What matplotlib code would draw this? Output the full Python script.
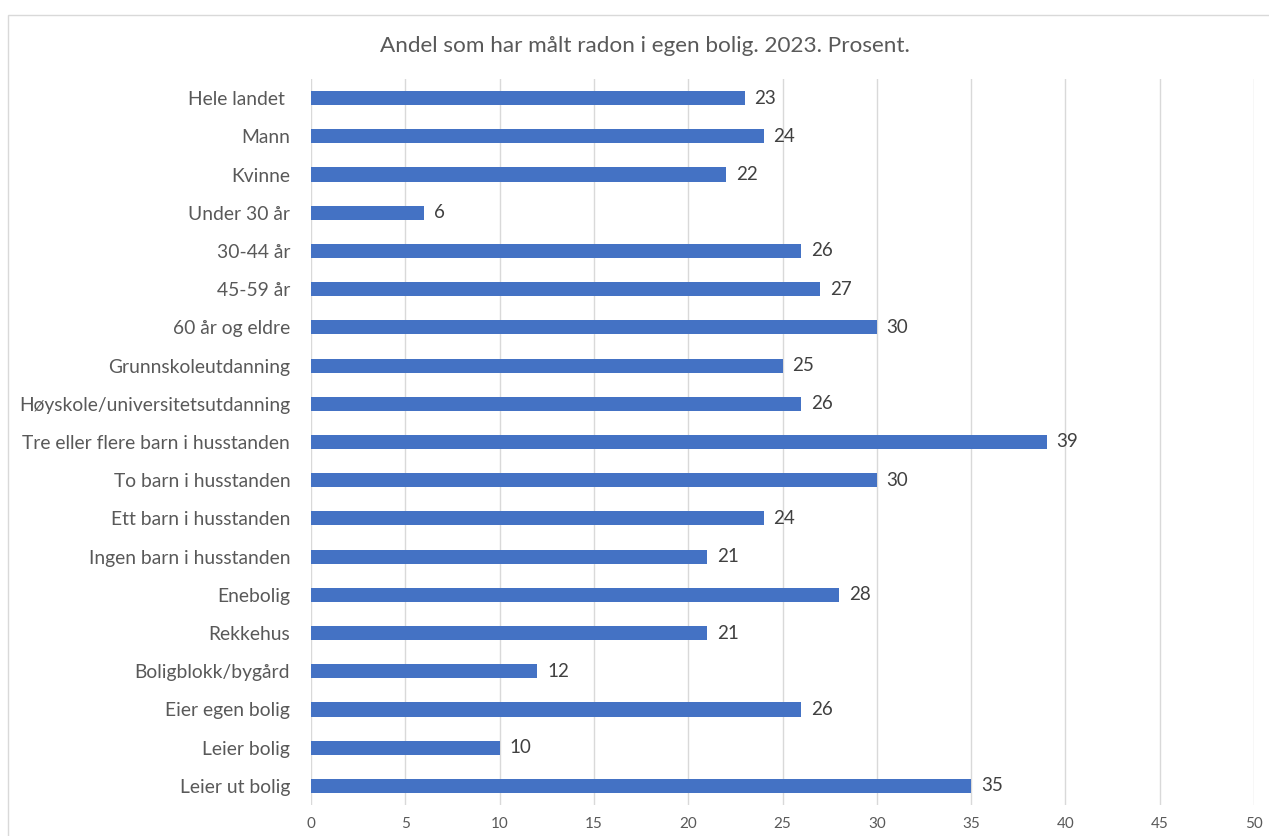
import matplotlib
matplotlib.use('Agg')
import matplotlib.pyplot as plt
from matplotlib.patches import Rectangle

plt.rcParams['font.family'] = ['Lato', 'DejaVu Sans']

categories = ['Hele landet ', 'Mann', 'Kvinne', 'Under 30 år', '30-44 år', '45-59 år',
              '60 år og eldre', 'Grunnskoleutdanning', 'Høyskole/universitetsutdanning',
              'Tre eller flere barn i husstanden', 'To barn i husstanden',
              'Ett barn i husstanden', 'Ingen barn i husstanden', 'Enebolig', 'Rekkehus',
              'Boligblokk/bygård', 'Eier egen bolig', 'Leier bolig', 'Leier ut bolig']
values = [23, 24, 22, 6, 26, 27, 30, 25, 26, 39, 30, 24, 21, 28, 21, 12, 26, 10, 35]
title = 'Andel som har målt radon i egen bolig. 2023. Prosent.'

fig = plt.figure(figsize=(12.69, 8.36), dpi=100)
ax = fig.add_axes([0.2451, 0.0371, 0.7431, 0.8684])

# chart frame
fig.patches.append(Rectangle((8 / 1269, -0.1), 1.2, 1 - 15 / 836 + 0.1,
                             transform=fig.transFigure, fill=False,
                             edgecolor='#d9d9d9', linewidth=1))

y = list(range(len(categories)))
bars = ax.barh(y, values, height=0.37, color='#4472C4')
ax.bar_label(bars, labels=[str(v) for v in values], padding=7,
             fontsize=13.5, color='#404040')

ax.set_xlim(0, 50)
ax.set_ylim(len(categories) - 0.5, -0.5)
ax.set_xticks(range(0, 51, 5))
ax.set_yticks(y)
ax.set_yticklabels(categories, fontsize=13.9, color='#595959')
ax.tick_params(axis='x', labelsize=11, colors='#595959', length=0, pad=9)
ax.tick_params(axis='y', length=0, pad=15)
ax.grid(axis='x', color='#d9d9d9', linewidth=1)
ax.set_axisbelow(True)
for s in ax.spines.values():
    s.set_visible(False)

fig.text(0.508, 0.945, title, ha='center', va='center', fontsize=16.2, color='#595959')

fig.savefig('out.png', dpi=100)
